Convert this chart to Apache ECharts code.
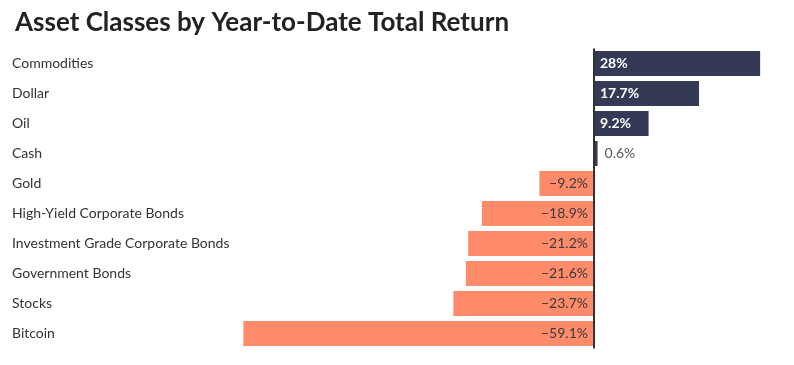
<!DOCTYPE html>
<html><head><meta charset="utf-8">
<script src="https://cdn.jsdelivr.net/npm/echarts@6/dist/echarts.min.js"></script>
<style>html,body{margin:0;padding:0;background:#fff}#c{width:794px;height:365px}</style>
</head><body><div id="c"></div>
<script>
const titleText = 'Asset Classes by Year-to-Date Total Return';
const categories = ['Commodities','Dollar','Oil','Cash','Gold','High-Yield Corporate Bonds','Investment Grade Corporate Bonds','Government Bonds','Stocks','Bitcoin'];
const values = [28, 17.7, 9.2, 0.6, -9.2, -18.9, -21.2, -21.6, -23.7, -59.1];
const valueLabels = ['28%','17.7%','9.2%','0.6%','−9.2%','−18.9%','−21.2%','−21.6%','−23.7%','−59.1%'];

const FONT = 'Lato, "Noto Sans", sans-serif';
const POS = '#343a56', NEG = '#ff8b6b';
const chart = echarts.init(document.getElementById('c'), null, {renderer:'canvas'});
const data = values.map((v,i)=>{
  let label;
  if (v >= 5) label = {show:true, position:'insideLeft', distance:6, color:'#fff', fontWeight:'bold', fontSize:14, fontFamily:FONT};
  else if (v >= 0) label = {show:true, position:'right', distance:7, color:'#555', fontSize:14, fontFamily:FONT};
  else label = {show:true, position:'insideRight', distance:6, color:'#3a3a3a', fontSize:14, fontFamily:FONT};
  return {value:v, itemStyle:{color: v>=0?POS:NEG}, label};
});
chart.setOption({
  animation:false,
  title:{text:titleText, left:10, top:5, textStyle:{fontFamily:FONT, fontSize:26, fontWeight:'bold', color:'#222'}},
  grid:{left:238, width:534, top:48.5, height:300, containLabel:false},
  xAxis:{type:'value', min:-60, max:30, show:false},
  yAxis:{type:'category', data:categories, inverse:true,
    axisLine:{show:false}, axisTick:{show:false}, splitLine:{show:false},
    axisLabel:{align:'left', margin:226, color:'#333', fontSize:14, fontFamily:FONT}},
  series:[{type:'bar', data, barCategoryGap:'16.7%',
    label:{formatter:p=>valueLabels[p.dataIndex]},
    markLine:{silent:true, symbol:'none', label:{show:false},
      lineStyle:{color:'#333', width:2, type:'solid'},
      data:[{xAxis:0}]}
  }]
});
</script></body></html>
